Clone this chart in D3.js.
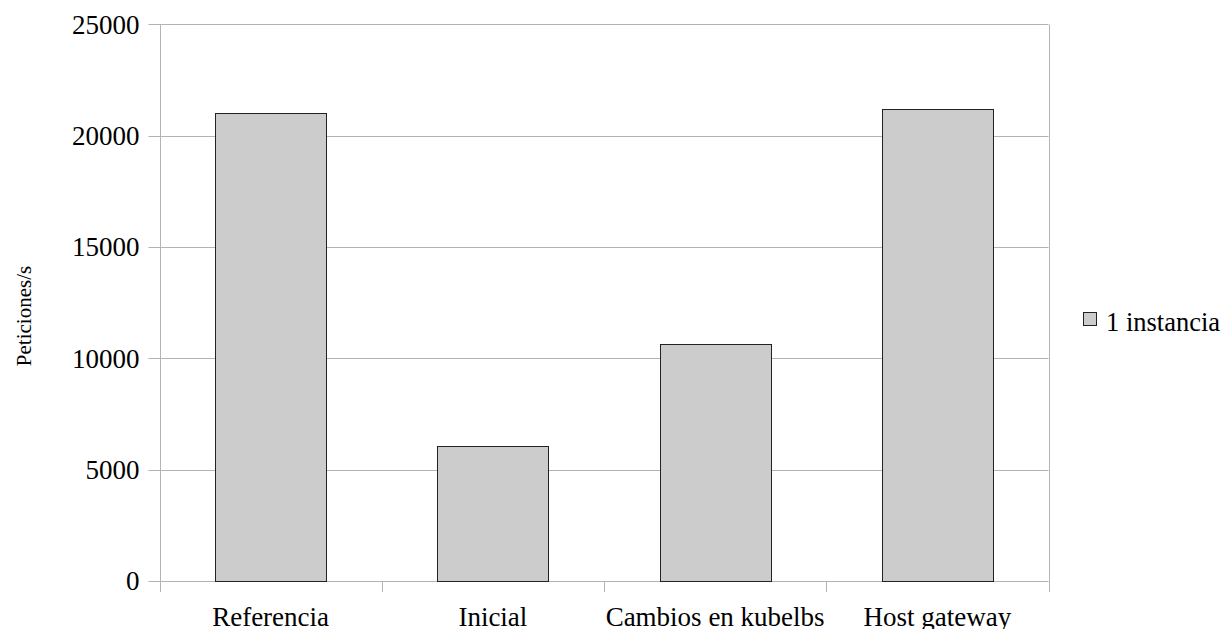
<!DOCTYPE html>
<html>
<head>
<meta charset="utf-8">
<script src="https://cdn.jsdelivr.net/npm/d3@7"></script>
<style>
  html, body { margin: 0; padding: 0; background: #fff; }
  svg { display: block; }
  text { font-family: "Liberation Serif", Tinos, "Times New Roman", Times, "Noto Serif", "DejaVu Serif", serif; fill: #000; }
</style>
</head>
<body>
<svg id="chart" width="1225" height="629"></svg>
<script>
const categories = ["Referencia", "Inicial", "Cambios en kubelbs", "Host gateway"];
const values = [21020, 6070, 10630, 21200];
const seriesName = "1 instancia";
const yTicks = [0, 5000, 10000, 15000, 20000, 25000];

const svg = d3.select("#chart");
const plotLeft = 159.5, plotRight = 1048.5, plotTop = 24.3, plotBottom = 581;

const x = d3.scaleBand().domain(categories).range([plotLeft, plotRight]).paddingInner(0.5).paddingOuter(0.25);
const y = d3.scaleLinear().domain([0, 25000]).range([plotBottom, plotTop]);

const gridColor = "#b3b3b3";

svg.append("g").selectAll("line").data(yTicks).join("line")
  .attr("x1", plotLeft - 11).attr("x2", plotRight)
  .attr("y1", d => Math.round(y(d)) + 0.5).attr("y2", d => Math.round(y(d)) + 0.5)
  .attr("stroke", gridColor).attr("stroke-width", 1);

const bounds = [plotLeft, ...categories.slice(1).map(c => x(c) - x.step() * x.paddingInner() / 2), plotRight];
svg.append("g").selectAll("line").data(bounds).join("line")
  .attr("x1", d => Math.round(d) + 0.5).attr("x2", d => Math.round(d) + 0.5)
  .attr("y1", (d, i) => (i === 0 || i === bounds.length - 1) ? Math.round(plotTop) + 0.5 : plotBottom)
  .attr("y2", plotBottom + 11)
  .attr("stroke", gridColor).attr("stroke-width", 1);

svg.append("g").selectAll("rect").data(values).join("rect")
  .attr("x", (d, i) => Math.round(x(categories[i])) + 0.5)
  .attr("width", Math.round(x.bandwidth()))
  .attr("y", d => Math.round(y(d)) + 0.5)
  .attr("height", d => Math.round(y(0)) - Math.round(y(d)))
  .attr("fill", "#cccccc").attr("stroke", "#222").attr("stroke-width", 1);

svg.append("g").selectAll("text").data(yTicks).join("text")
  .attr("x", plotLeft - 20).attr("y", d => y(d))
  .attr("dy", "0.35em")
  .attr("text-anchor", "end").attr("font-size", 27)
  .text(d => d);

svg.append("g").selectAll("text").data(categories).join("text")
  .attr("x", d => x(d) + x.bandwidth() / 2).attr("y", 626)
  .attr("text-anchor", "middle").attr("font-size", 27)
  .text(d => d);

svg.append("text")
  .attr("transform", "translate(31,316) rotate(-90)")
  .attr("text-anchor", "middle").attr("font-size", 21)
  .text("Peticiones/s");

svg.append("rect").attr("x", 1083.5).attr("y", 312.5).attr("width", 13).attr("height", 13)
  .attr("fill", "#cccccc").attr("stroke", "#222").attr("stroke-width", 1);
svg.append("text").attr("x", 1106).attr("y", 331).attr("font-size", 26.5).text(seriesName);
</script>
</body>
</html>
